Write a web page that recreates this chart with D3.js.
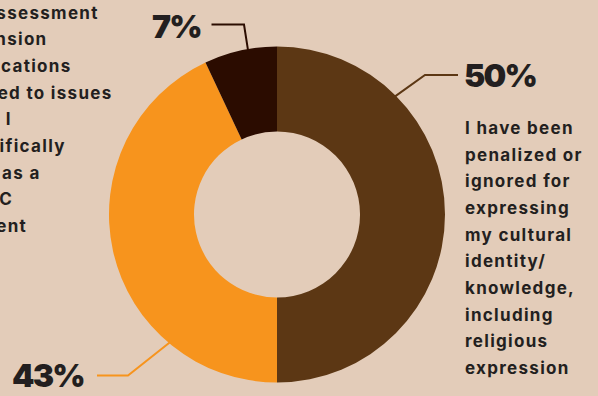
<!DOCTYPE html>
<html>
<head>
<meta charset="utf-8">
<script src="https://cdn.jsdelivr.net/npm/d3@7/dist/d3.min.js"></script>
<style>
  html, body { margin: 0; padding: 0; background: #E3CCB9; }
  svg { display: block; }
</style>
</head>
<body>
<svg id="chart" width="598" height="396"></svg>
<script>
// Survey shares, clockwise from 12 o'clock
const categories = ["Penalized or ignored", "Other experience", "No response"];
const values = [50, 43, 7];
const valueLabels = ["50%", "43%", "7%"];
const sliceColors = ["#5C3714", "#F7941D", "#2B0C00"];

// Statement text blocks
const rightStatement = [
  "I have been", "penalized or", "ignored for", "expressing",
  "my cultural", "identity/", "knowledge,", "including",
  "religious", "expression"
];
const leftStatement = [
  "An assessment", "extension", "applications", "related to issues",
  "what I", "specifically", "then as a", "BIPOC", "student"
];

const W = 598, H = 396;
const cx = 277, cy = 214.5, outerR = 168, innerR = 83;
const ink = "#231F20";
const headFont = "Inter, 'Open Sans', sans-serif";

// Leader-line layout per slice: anchor angle on the rim (degrees clockwise
// from top), elbow point, label end point and percentage text placement.
const leaders = [
  { angle: 45,  elbow: [425, 75],    end: [458, 75],     text: [464, 87] },
  { angle: 220, elbow: [128, 375.5], end: [97, 375.5],   text: [12, 387] },
  { angle: 350, elbow: [244, 24.5],  end: [211.5, 24.5], text: [152, 38] }
];

const svg = d3.select("#chart");
svg.append("rect").attr("width", W).attr("height", H).attr("fill", "#E3CCB9");

const pie = d3.pie().sort(null).value(d => d);
const arc = d3.arc().innerRadius(innerR).outerRadius(outerR);
const color = d3.scaleOrdinal().domain(categories).range(sliceColors);

const g = svg.append("g").attr("transform", `translate(${cx},${cy})`);
g.selectAll("path.slice")
  .data(pie(values))
  .join("path")
  .attr("class", "slice")
  .attr("d", arc)
  .attr("fill", (d, i) => color(categories[i]));

// Leader lines
const rimPoint = (deg, r) => {
  const a = deg * Math.PI / 180;
  return [cx + r * Math.sin(a), cy - r * Math.cos(a)];
};
const line = d3.line();
leaders.forEach((L, i) => {
  const p0 = rimPoint(L.angle, outerR - 1);
  svg.append("path")
    .attr("d", line([p0, L.elbow, L.end]))
    .attr("fill", "none")
    .attr("stroke", sliceColors[i])
    .attr("stroke-width", 2);
  svg.append("text")
    .attr("x", L.text[0]).attr("y", L.text[1])
    .attr("font-family", headFont)
    .attr("font-weight", 900)
    .attr("font-size", 32)
    .attr("letter-spacing", "-1.8")
    .attr("fill", ink)
    .text(valueLabels[i]);
});

// Statement beside the largest slice
const bodyText = sel => sel
  .attr("font-family", headFont)
  .attr("font-weight", 700)
  .attr("font-size", 17)
  .attr("letter-spacing", "1.3")
  .attr("fill", ink);

const rightText = svg.append("text").call(bodyText);
rightStatement.forEach((s, i) => {
  rightText.append("tspan").attr("x", 465).attr("y", 134 + i * 26.67).text(s);
});

// Statement running in from the left edge
const leftText = svg.append("text").call(bodyText);
leftStatement.forEach((s, i) => {
  leftText.append("tspan").attr("x", -46).attr("y", 18.5 + i * 26.67).text(s);
});
</script>
</body>
</html>
